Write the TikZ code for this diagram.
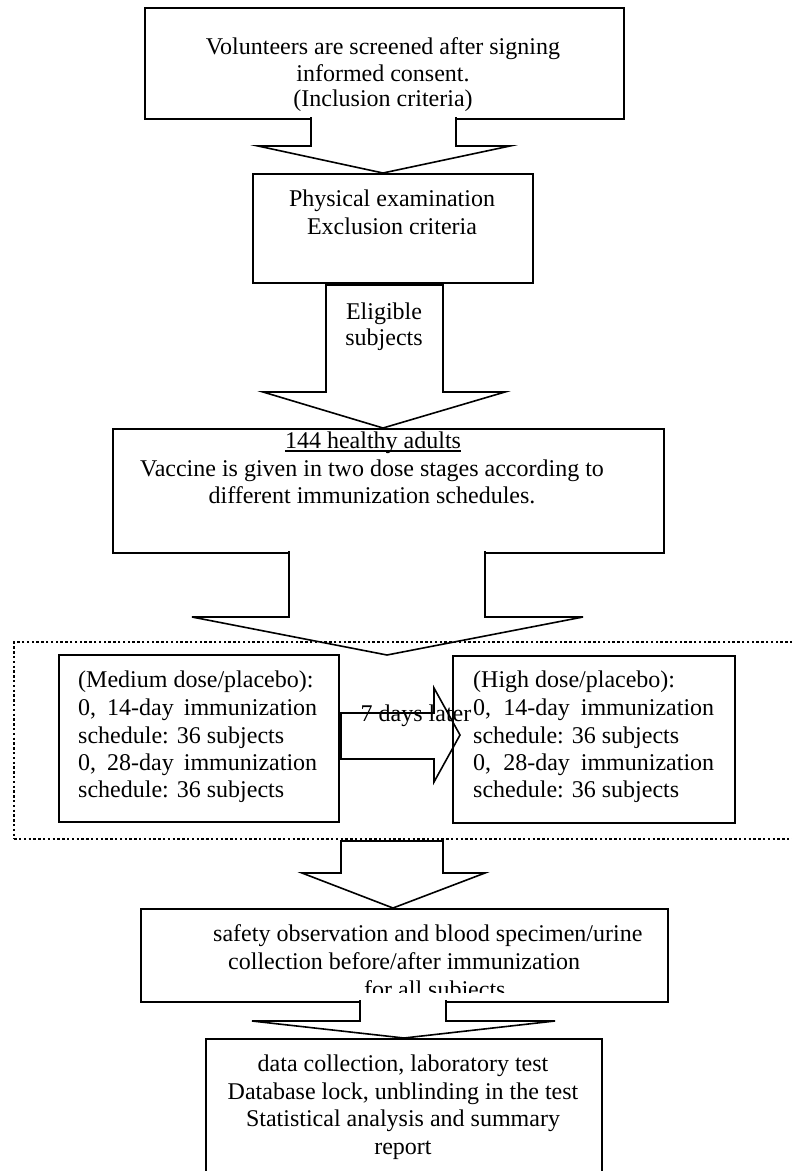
\documentclass[tikz,border=0pt]{standalone}
\usepackage{fontspec}
\setmainfont{Liberation Serif}
\begin{document}
\begin{tikzpicture}[x=1pt,y=-1pt]
\useasboundingbox (0,0) rectangle (792,1171);
\tikzset{
  boxline/.style={line width=1.6pt},
  box/.style={boxline, draw, inner sep=0pt, anchor=north west},
  blk/.style={boxline, fill=white},
  txt/.style={font=\fontsize{24}{27.6}\selectfont, inner sep=0pt, anchor=base},
  ltxt/.style={txt, anchor=base west},
  dotbox/.style={draw, inner sep=0pt, anchor=north west, line width=2.4pt, dash pattern=on 2.4pt off 2.4pt}
}
% boxes
\node[box, minimum width=479pt, minimum height=111pt] (b1) at (144,7) {};
\node[box, minimum width=280pt, minimum height=109pt] (b2) at (252,173) {};
\node[box, minimum width=551pt, minimum height=124pt] (b3) at (112,428) {};
\node[box, minimum width=280pt, minimum height=167pt] (med) at (58,654) {};
\node[box, minimum width=282pt, minimum height=167pt] (high) at (452,655) {};
\node[box, minimum width=527pt, minimum height=93pt] (b4) at (140,908) {};
\node[box, minimum width=396pt, minimum height=170pt] (b5) at (205,1038) {};
% block arrows
\filldraw[blk] (311,117.2) -- (311,146) -- (258,146) -- (383,173) -- (510,146) -- (456,146) -- (456,117.2);
\filldraw[blk] (326,285) -- (326,392) -- (263,392) -- (383,428) -- (505,392) -- (443,392) -- (443,285) -- cycle;
\filldraw[blk] (289,551.2) -- (289,617) -- (192,617) -- (387,655) -- (583,617) -- (485,617) -- (485,551.2);
\filldraw[blk] (341,841) -- (341,873) -- (302,873) -- (393,908) -- (485,873) -- (443,873) -- (443,841) -- cycle;
\filldraw[blk] (360,1000.2) -- (360,1021) -- (252,1021) -- (404,1038) -- (555,1021) -- (446,1021) -- (446,1000.2);
\draw[boxline] (341,713) -- (434,713) -- (434,688) -- (460,735) -- (434,782) -- (434,759) -- (341,759) -- cycle;
% dotted frame
\node[dotbox, minimum width=785pt, minimum height=197pt] (grp) at (13,641) {};
% texts
\node[txt] (t1a) at (383,54) {Volunteers are screened after signing};
\node[txt] (t1b) at (383,81) {informed consent.};
\node[txt] (t1c) at (383,106) {(Inclusion criteria)};
\node[txt] (t2a) at (392,206) {Physical examination};
\node[txt] (t2b) at (392,234) {Exclusion criteria};
\node[txt] (te1) at (384,319) {Eligible};
\node[txt] (te2) at (384,345) {subjects};
\node[txt] (t3a) at (373,448) {144 healthy adults};
\draw[line width=1.1pt] ([yshift=-3pt]t3a.base west) -- ([yshift=-3pt]t3a.base east);
\node[txt] (t3b) at (372,476) {Vaccine is given in two dose stages according to};
\node[txt] (t3c) at (372,503) {different immunization schedules.};
\node[ltxt] (m1) at (78,687) {(Medium dose/placebo):};
\node[ltxt] (m2) at (78,715) {\makebox[239pt][s]{0, 14-day immunization}};
\node[ltxt] (m3) at (78,743) {schedule: 36 subjects};
\node[ltxt] (m4) at (78,770) {\makebox[239pt][s]{0, 28-day immunization}};
\node[ltxt] (m5) at (78,797) {schedule: 36 subjects};
\node[ltxt] (h1) at (473,687) {(High dose/placebo):};
\node[ltxt] (h2) at (473,715) {\makebox[241pt][s]{0, 14-day immunization}};
\node[ltxt] (h3) at (473,743) {schedule: 36 subjects};
\node[ltxt] (h4) at (473,770) {\makebox[241pt][s]{0, 28-day immunization}};
\node[ltxt] (h5) at (473,797) {schedule: 36 subjects};
\node[txt] (later) at (416,721) {7 days later};
\node[ltxt] (t4a) at (213,941) {safety observation and blood specimen/urine};
\node[ltxt] (t4b) at (228,969) {collection before/after immunization};
\begin{scope}
\clip (140,908) rectangle (667,992.5);
\node[ltxt] (t4c) at (364,997) {for all subjects};
\end{scope}
\node[txt] (t5a) at (403,1071) {data collection, laboratory test};
\node[txt] (t5b) at (403,1099) {Database lock, unblinding in the test};
\node[txt] (t5c) at (403,1126) {Statistical analysis and summary};
\node[txt] (t5d) at (403,1154) {report};
\end{tikzpicture}
\end{document}
